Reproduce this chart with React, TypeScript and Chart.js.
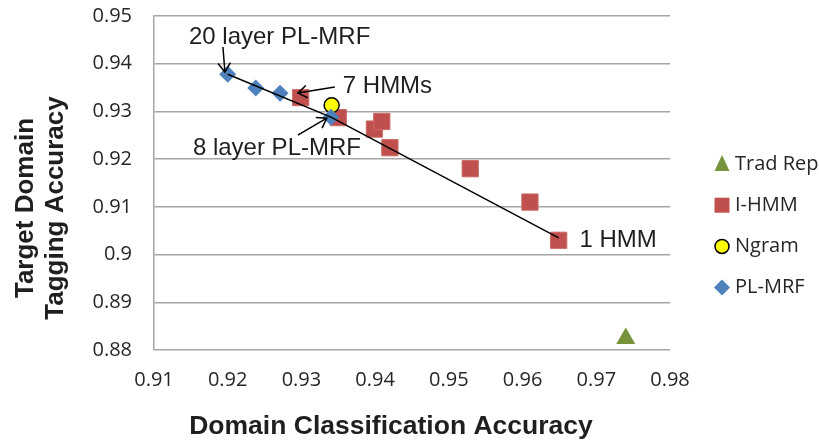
import { useEffect, useRef } from 'react';
import { Chart, registerables } from 'chart.js';

Chart.register(...registerables);

// ---- data ----
const plMrfX = [0.92, 0.9238, 0.9271, 0.934];
const plMrfY = [0.9378, 0.9349, 0.9338, 0.9288];
const ngramX = [0.9341];
const ngramY = [0.9313];
const iHmmX = [0.9299, 0.935, 0.9399, 0.9409, 0.942, 0.9529, 0.961, 0.9649];
const iHmmY = [0.9329, 0.9287, 0.9263, 0.9279, 0.9224, 0.918, 0.911, 0.903];
const tradRepX = [0.974];
const tradRepY = [0.8824];
const frontierX = [0.92, 0.934, 0.9649];
const frontierY = [0.9378, 0.9288, 0.9035];

const xTicks = [0.91, 0.92, 0.93, 0.94, 0.95, 0.96, 0.97, 0.98];
const yTicks = [0.88, 0.89, 0.9, 0.91, 0.92, 0.93, 0.94, 0.95];

const xTitle = 'Domain Classification Accuracy';
const yTitleLines = ['Target Domain', 'Tagging Accuracy'];
const legendOrder = ['Trad Rep', 'I-HMM', 'Ngram', 'PL-MRF'];

// callouts: text anchor and arrow (from -> tip) in data units
const calloutText = ['20 layer PL-MRF', '7 HMMs', '8 layer PL-MRF', '1 HMM'];
const calloutTextX = [0.91474, 0.93561, 0.91528, 0.96772];
const calloutTextY = [0.94412, 0.93384, 0.92082, 0.90151];
const arrowFromX = [0.91935, 0.93453, 0.92951, null];
const arrowFromY = [0.94349, 0.9351, 0.92502, null];
const arrowToX = [0.91962, 0.92951, 0.93344, null];
const arrowToY = [0.93825, 0.93384, 0.92859, null];

const zip = (xs: number[], ys: number[]) => xs.map((x, i) => ({ x, y: ys[i] }));

const TICK_FONT = '"Open Sans", sans-serif';
const ARIAL = '"Liberation Sans", Arial, sans-serif';

const calloutPlugin = {
  id: 'callouts',
  afterDatasetsDraw(chart: any) {
    const { ctx, scales } = chart;
    const xs = scales.x;
    const ys = scales.y;
    ctx.save();
    ctx.fillStyle = '#1f1f1f';
    ctx.font = `24px ${ARIAL}`;
    ctx.textAlign = 'left';
    ctx.textBaseline = 'alphabetic';
    calloutText.forEach((t, i) => {
      ctx.fillText(t, xs.getPixelForValue(calloutTextX[i]), ys.getPixelForValue(calloutTextY[i]));
      if (arrowFromX[i] == null) return;
      const x1 = xs.getPixelForValue(arrowFromX[i] as number);
      const y1 = ys.getPixelForValue(arrowFromY[i] as number);
      const x2 = xs.getPixelForValue(arrowToX[i] as number);
      const y2 = ys.getPixelForValue(arrowToY[i] as number);
      ctx.strokeStyle = '#000';
      ctx.lineWidth = 1.5;
      ctx.beginPath();
      ctx.moveTo(x1, y1);
      ctx.lineTo(x2, y2);
      const ang = Math.atan2(y2 - y1, x2 - x1);
      const L = 11;
      const spread = 0.6;
      ctx.moveTo(x2 - L * Math.cos(ang - spread), y2 - L * Math.sin(ang - spread));
      ctx.lineTo(x2, y2);
      ctx.lineTo(x2 - L * Math.cos(ang + spread), y2 - L * Math.sin(ang + spread));
      ctx.stroke();
    });
    ctx.restore();
  },
};

function drawMarker(ctx: CanvasRenderingContext2D, style: string, x: number, y: number, fill: string, stroke: string) {
  ctx.fillStyle = fill;
  ctx.beginPath();
  if (style === 'rect') {
    ctx.rect(x - 7.5, y - 7.5, 15, 15);
    ctx.fill();
  } else if (style === 'rectRot') {
    ctx.moveTo(x, y - 8);
    ctx.lineTo(x + 8, y);
    ctx.lineTo(x, y + 8);
    ctx.lineTo(x - 8, y);
    ctx.closePath();
    ctx.fill();
  } else if (style === 'circle') {
    ctx.arc(x, y, 7, 0, Math.PI * 2);
    ctx.fill();
    ctx.strokeStyle = stroke;
    ctx.lineWidth = 1.5;
    ctx.stroke();
  } else if (style === 'triangle') {
    ctx.moveTo(x, y - 9);
    ctx.lineTo(x + 7.5, y + 7);
    ctx.lineTo(x - 7.5, y + 7);
    ctx.closePath();
    ctx.fill();
  }
}

const framePlugin = {
  id: 'frameText',
  afterDraw(chart: any) {
    const { ctx } = chart;
    ctx.save();
    // axis titles
    ctx.fillStyle = '#1f1f1f';
    ctx.font = `bold 26.5px ${ARIAL}`;
    ctx.textAlign = 'center';
    ctx.textBaseline = 'alphabetic';
    ctx.fillText(xTitle, 391, 434);
    ctx.save();
    ctx.translate(0, 208);
    ctx.rotate(-Math.PI / 2);
    ctx.font = `bold 26px ${ARIAL}`;
    ctx.fillText(yTitleLines[0], 0, 33);
    ctx.fillText(yTitleLines[1], 0, 63);
    ctx.restore();
    // legend
    ctx.font = `20px ${TICK_FONT}`;
    ctx.textAlign = 'left';
    ctx.textBaseline = 'middle';
    legendOrder.forEach((name, i) => {
      const ds = chart.data.datasets.find((d: any) => d.label === name);
      if (!ds) return;
      const y = 164 + i * 41.2;
      drawMarker(ctx, ds.pointStyle, 722, y, ds.backgroundColor, ds.borderColor);
      ctx.fillStyle = '#262626';
      ctx.fillText(name, 735, y);
    });
    ctx.restore();
  },
};

export default function App() {
  const ref = useRef<HTMLCanvasElement | null>(null);
  useEffect(() => {
    if (!ref.current) return;
    const fmt = (v: any) => String(Number(Number(v).toFixed(2)));
    const chart = new Chart(ref.current, {
      type: 'scatter',
      data: {
        datasets: [
          {
            label: 'frontier',
            data: zip(frontierX, frontierY),
            showLine: true,
            borderColor: '#000',
            borderWidth: 1.5,
            pointRadius: 0,
            order: 0,
          } as any,
          {
            label: 'PL-MRF',
            data: zip(plMrfX, plMrfY),
            pointStyle: 'rectRot',
            pointRadius: 8.5,
            backgroundColor: '#4F81BD',
            borderColor: '#4F81BD',
            borderWidth: 0,
            order: 1,
          },
          {
            label: 'Ngram',
            data: zip(ngramX, ngramY),
            pointStyle: 'circle',
            pointRadius: 7.5,
            backgroundColor: '#FFFF00',
            borderColor: '#000000',
            borderWidth: 1.5,
            order: 2,
          },
          {
            label: 'I-HMM',
            data: zip(iHmmX, iHmmY),
            pointStyle: 'rect',
            pointRadius: 11.5,
            backgroundColor: '#C0504D',
            borderColor: '#CB6B68',
            borderWidth: 1,
            order: 3,
          },
          {
            label: 'Trad Rep',
            data: zip(tradRepX, tradRepY),
            pointStyle: 'triangle',
            pointRadius: 11,
            backgroundColor: '#77933C',
            borderColor: '#77933C',
            borderWidth: 0,
            order: 4,
          },
        ],
      },
      options: {
        animation: false,
        responsive: true,
        maintainAspectRatio: false,
        events: [],
        layout: { padding: { top: 16, right: 149, left: 0, bottom: 0 } },
        plugins: {
          legend: { display: false },
          tooltip: { enabled: false },
        },
        scales: {
          x: {
            type: 'linear',
            min: xTicks[0],
            max: xTicks[xTicks.length - 1],
            afterBuildTicks: (s: any) => {
              s.ticks = xTicks.map((value) => ({ value }));
            },
            afterFit: (s: any) => {
              s.height = 94;
              s.paddingLeft = 0;
              s.paddingRight = 0;
              s.paddingTop = 0;
              s.paddingBottom = 0;
            },
            grid: { display: false, drawTicks: false },
            border: { display: false },
            ticks: {
              padding: 18,
              color: '#262626',
              font: { family: TICK_FONT, size: 20, lineHeight: 1.2 },
              maxRotation: 0,
              callback: fmt,
            },
          },
          y: {
            type: 'linear',
            min: yTicks[0],
            max: yTicks[yTicks.length - 1],
            afterBuildTicks: (s: any) => {
              s.ticks = yTicks.map((value) => ({ value }));
            },
            afterFit: (s: any) => {
              s.width = 154;
              s.paddingLeft = 0;
              s.paddingRight = 0;
              s.paddingTop = 0;
              s.paddingBottom = 0;
            },
            grid: { color: '#A6A6A6', lineWidth: 1.5, drawTicks: false },
            border: { display: true, color: '#A6A6A6', width: 1.5 },
            ticks: {
              padding: 22,
              color: '#262626',
              font: { family: TICK_FONT, size: 20, lineHeight: 0.8 },
              callback: fmt,
            },
          },
        },
      },
      plugins: [calloutPlugin, framePlugin],
    });
    return () => chart.destroy();
  }, []);
  return (
    <div style={{ position: 'absolute', left: 0, top: 0, width: 819, height: 444 }}>
      <canvas ref={ref} />
    </div>
  );
}
